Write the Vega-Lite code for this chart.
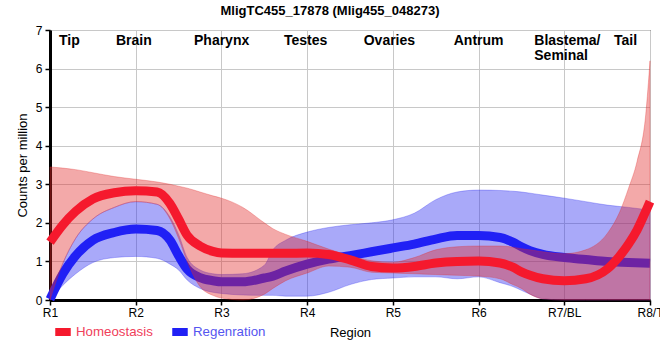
{
  "$schema": "https://vega.github.io/schema/vega-lite/v6.json",
  "autosize": "none",
  "width": 600,
  "height": 270,
  "padding": {"left": 50, "top": 30, "right": 10, "bottom": 60},
  "title": {"text": "MligTC455_17878 (Mlig455_048273)", "fontSize": 13, "font": "Liberation Sans", "fontWeight": "bold", "dx": -20, "offset": 6, "color": "#000"},
  "config": {
    "view": {"stroke": "black", "strokeWidth": 1},
    "font": "Liberation Sans",
    "axis": {"gridColor": "#c8c8c8", "gridWidth": 1, "domainColor": "black", "domainWidth": 3, "tickColor": "black", "tickWidth": 1.5, "tickSize": 5, "labelColor": "#000", "labelFontSize": 12, "labelFont": "Liberation Sans", "titleFont": "Liberation Sans", "titleFontSize": 13, "titleFontWeight": "normal", "titleColor": "#000"}
  },
  "datasets": {
    "series": [
      {"group": "Homeostasis", "x": 0, "y": 1.5, "lo": 0.0, "hi": 3.45},
      {"group": "Homeostasis", "x": 0.15, "y": 1.95, "lo": 0.95, "hi": 3.42},
      {"group": "Homeostasis", "x": 0.3, "y": 2.3, "lo": 1.6, "hi": 3.38},
      {"group": "Homeostasis", "x": 0.5, "y": 2.62, "lo": 2.1, "hi": 3.3},
      {"group": "Homeostasis", "x": 0.75, "y": 2.78, "lo": 2.4, "hi": 3.2},
      {"group": "Homeostasis", "x": 1, "y": 2.83, "lo": 2.55, "hi": 3.13},
      {"group": "Homeostasis", "x": 1.25, "y": 2.8, "lo": 2.48, "hi": 3.06},
      {"group": "Homeostasis", "x": 1.4, "y": 2.5, "lo": 2.1, "hi": 3.0},
      {"group": "Homeostasis", "x": 1.5, "y": 2.1, "lo": 1.6, "hi": 2.95},
      {"group": "Homeostasis", "x": 1.6, "y": 1.68, "lo": 1.0, "hi": 2.9},
      {"group": "Homeostasis", "x": 1.75, "y": 1.4, "lo": 0.35, "hi": 2.8},
      {"group": "Homeostasis", "x": 1.9, "y": 1.26, "lo": 0.12, "hi": 2.7},
      {"group": "Homeostasis", "x": 2, "y": 1.22, "lo": 0.05, "hi": 2.64},
      {"group": "Homeostasis", "x": 2.25, "y": 1.21, "lo": 0.0, "hi": 2.4},
      {"group": "Homeostasis", "x": 2.5, "y": 1.21, "lo": 0.15, "hi": 2.0},
      {"group": "Homeostasis", "x": 2.6, "y": 1.21, "lo": 0.3, "hi": 1.85},
      {"group": "Homeostasis", "x": 2.75, "y": 1.21, "lo": 0.5, "hi": 1.7},
      {"group": "Homeostasis", "x": 3, "y": 1.22, "lo": 0.7, "hi": 1.52},
      {"group": "Homeostasis", "x": 3.25, "y": 1.18, "lo": 0.88, "hi": 1.32},
      {"group": "Homeostasis", "x": 3.5, "y": 1.04, "lo": 0.85, "hi": 1.15},
      {"group": "Homeostasis", "x": 3.75, "y": 0.87, "lo": 0.72, "hi": 1.02},
      {"group": "Homeostasis", "x": 4, "y": 0.83, "lo": 0.7, "hi": 0.98},
      {"group": "Homeostasis", "x": 4.25, "y": 0.87, "lo": 0.68, "hi": 1.1},
      {"group": "Homeostasis", "x": 4.5, "y": 0.96, "lo": 0.66, "hi": 1.3},
      {"group": "Homeostasis", "x": 4.75, "y": 1.0, "lo": 0.64, "hi": 1.38},
      {"group": "Homeostasis", "x": 5, "y": 1.01, "lo": 0.62, "hi": 1.4},
      {"group": "Homeostasis", "x": 5.25, "y": 0.96, "lo": 0.55, "hi": 1.4},
      {"group": "Homeostasis", "x": 5.4, "y": 0.85, "lo": 0.4, "hi": 1.37},
      {"group": "Homeostasis", "x": 5.5, "y": 0.73, "lo": 0.3, "hi": 1.33},
      {"group": "Homeostasis", "x": 5.6, "y": 0.64, "lo": 0.15, "hi": 1.3},
      {"group": "Homeostasis", "x": 5.75, "y": 0.55, "lo": 0.03, "hi": 1.25},
      {"group": "Homeostasis", "x": 6, "y": 0.5, "lo": 0.0, "hi": 1.2},
      {"group": "Homeostasis", "x": 6.25, "y": 0.55, "lo": 0.0, "hi": 1.3},
      {"group": "Homeostasis", "x": 6.5, "y": 0.8, "lo": 0.0, "hi": 1.72},
      {"group": "Homeostasis", "x": 6.65, "y": 1.15, "lo": 0.0, "hi": 2.3},
      {"group": "Homeostasis", "x": 6.75, "y": 1.45, "lo": 0.0, "hi": 2.9},
      {"group": "Homeostasis", "x": 6.85, "y": 1.82, "lo": 0.0, "hi": 3.6},
      {"group": "Homeostasis", "x": 6.95, "y": 2.3, "lo": 0.0, "hi": 4.8},
      {"group": "Homeostasis", "x": 7, "y": 2.55, "lo": 0.0, "hi": 6.2},
      {"group": "Regenration", "x": 0, "y": 0.02, "lo": 0.0, "hi": 0.05},
      {"group": "Regenration", "x": 0.15, "y": 0.68, "lo": 0.38, "hi": 0.95},
      {"group": "Regenration", "x": 0.3, "y": 1.15, "lo": 0.68, "hi": 1.6},
      {"group": "Regenration", "x": 0.5, "y": 1.55, "lo": 0.97, "hi": 2.1},
      {"group": "Regenration", "x": 0.75, "y": 1.75, "lo": 1.1, "hi": 2.4},
      {"group": "Regenration", "x": 1, "y": 1.84, "lo": 1.13, "hi": 2.55},
      {"group": "Regenration", "x": 1.25, "y": 1.8, "lo": 1.08, "hi": 2.48},
      {"group": "Regenration", "x": 1.4, "y": 1.55, "lo": 0.93, "hi": 2.15},
      {"group": "Regenration", "x": 1.5, "y": 1.15, "lo": 0.78, "hi": 1.7},
      {"group": "Regenration", "x": 1.6, "y": 0.8, "lo": 0.52, "hi": 1.1},
      {"group": "Regenration", "x": 1.75, "y": 0.58, "lo": 0.3, "hi": 0.78},
      {"group": "Regenration", "x": 1.9, "y": 0.5, "lo": 0.2, "hi": 0.68},
      {"group": "Regenration", "x": 2, "y": 0.47, "lo": 0.17, "hi": 0.66},
      {"group": "Regenration", "x": 2.25, "y": 0.47, "lo": 0.13, "hi": 0.68},
      {"group": "Regenration", "x": 2.5, "y": 0.57, "lo": 0.12, "hi": 0.9},
      {"group": "Regenration", "x": 2.6, "y": 0.62, "lo": 0.12, "hi": 1.3},
      {"group": "Regenration", "x": 2.75, "y": 0.75, "lo": 0.1, "hi": 1.55},
      {"group": "Regenration", "x": 3, "y": 0.93, "lo": 0.1, "hi": 1.76},
      {"group": "Regenration", "x": 3.25, "y": 1.06, "lo": 0.2, "hi": 1.88},
      {"group": "Regenration", "x": 3.5, "y": 1.15, "lo": 0.4, "hi": 1.95},
      {"group": "Regenration", "x": 3.75, "y": 1.25, "lo": 0.53, "hi": 2.0},
      {"group": "Regenration", "x": 4, "y": 1.35, "lo": 0.57, "hi": 2.08},
      {"group": "Regenration", "x": 4.25, "y": 1.45, "lo": 0.6, "hi": 2.25},
      {"group": "Regenration", "x": 4.5, "y": 1.58, "lo": 0.6, "hi": 2.6},
      {"group": "Regenration", "x": 4.75, "y": 1.67, "lo": 0.55, "hi": 2.8},
      {"group": "Regenration", "x": 5, "y": 1.67, "lo": 0.6, "hi": 2.85},
      {"group": "Regenration", "x": 5.25, "y": 1.62, "lo": 0.45, "hi": 2.84},
      {"group": "Regenration", "x": 5.4, "y": 1.5, "lo": 0.35, "hi": 2.82},
      {"group": "Regenration", "x": 5.5, "y": 1.38, "lo": 0.25, "hi": 2.8},
      {"group": "Regenration", "x": 5.6, "y": 1.28, "lo": 0.15, "hi": 2.77},
      {"group": "Regenration", "x": 5.75, "y": 1.18, "lo": 0.03, "hi": 2.72},
      {"group": "Regenration", "x": 6, "y": 1.1, "lo": 0.0, "hi": 2.64},
      {"group": "Regenration", "x": 6.25, "y": 1.05, "lo": 0.0, "hi": 2.55},
      {"group": "Regenration", "x": 6.5, "y": 1.0, "lo": 0.0, "hi": 2.46},
      {"group": "Regenration", "x": 6.75, "y": 0.97, "lo": 0.0, "hi": 2.4},
      {"group": "Regenration", "x": 7, "y": 0.95, "lo": 0.0, "hi": 2.33}
    ],
    "regions": [
      {"label": "Tip", "x": 0.105},
      {"label": "Brain", "x": 0.77},
      {"label": "Pharynx", "x": 1.68},
      {"label": "Testes", "x": 2.73},
      {"label": "Ovaries", "x": 3.66},
      {"label": "Antrum", "x": 4.71},
      {"label": "Blastema/\nSeminal", "x": 5.65},
      {"label": "Tail", "x": 6.58}
    ]
  },
  "encoding": {
    "x": {"field": "x", "type": "quantitative", "scale": {"domain": [0, 7], "nice": false}, "title": "Region",
      "axis": {"values": [0, 1, 2, 3, 4, 5, 6, 7], "labelExpr": "['R1','R2','R3','R4','R5','R6','R7/BL','R8/T'][datum.value]", "grid": true, "labelOverlap": false, "labelBound": false, "labelFlush": false, "labelPadding": 2, "titlePadding": 8}}
  },
  "layer": [
    {
      "data": {"name": "series"},
      "transform": [{"filter": "datum.group == 'Regenration'"}],
      "mark": {"type": "area", "interpolate": "monotone", "fill": "#2828f0", "fillOpacity": 0.4, "stroke": "#2828f0", "strokeOpacity": 0.3, "strokeWidth": 1},
      "encoding": {
        "y": {"field": "lo", "type": "quantitative", "scale": {"domain": [0, 7], "nice": false}, "title": "Counts per million",
          "axis": {"values": [0, 1, 2, 3, 4, 5, 6, 7], "tickCount": 8, "labelOverlap": false, "grid": true, "titlePadding": 6, "labelPadding": 3}},
        "y2": {"field": "hi"}
      }
    },
    {
      "data": {"name": "series"},
      "transform": [{"filter": "datum.group == 'Regenration'"}],
      "mark": {"type": "line", "interpolate": "monotone", "strokeWidth": 9},
      "encoding": {
        "y": {"field": "y", "type": "quantitative", "scale": {"domain": [0, 7], "nice": false}, "title": "Counts per million",
          "axis": {"values": [0, 1, 2, 3, 4, 5, 6, 7], "tickCount": 8, "labelOverlap": false, "grid": true, "titlePadding": 6, "labelPadding": 3}},
        "color": {"field": "group", "type": "nominal", "scale": {"domain": ["Homeostasis", "Regenration"], "range": ["#f5192d", "#2020f5"]},
          "legend": {"title": null, "orient": "none", "legendX": 1, "legendY": 290, "direction": "horizontal", "symbolType": "stroke", "symbolStrokeWidth": 8, "symbolSize": 240, "labelFontSize": 13.3, "labelFont": "Liberation Sans", "labelColor": {"expr": "datum.value == 'Homeostasis' ? '#f0405a' : '#5555f0'"}, "columnPadding": 3, "labelOffset": 1, "symbolOpacity": 1}}
      }
    },
    {
      "data": {"name": "series"},
      "transform": [{"filter": "datum.group == 'Homeostasis'"}],
      "mark": {"type": "area", "interpolate": "monotone", "fill": "#e02828", "fillOpacity": 0.4, "stroke": "#e02828", "strokeOpacity": 0.3, "strokeWidth": 1},
      "encoding": {
        "y": {"field": "lo", "type": "quantitative", "scale": {"domain": [0, 7], "nice": false}, "title": "Counts per million",
          "axis": {"values": [0, 1, 2, 3, 4, 5, 6, 7], "tickCount": 8, "labelOverlap": false, "grid": true, "titlePadding": 6, "labelPadding": 3}},
        "y2": {"field": "hi"}
      }
    },
    {
      "data": {"name": "series"},
      "transform": [{"filter": "datum.group == 'Homeostasis'"}],
      "mark": {"type": "line", "interpolate": "monotone", "strokeWidth": 9},
      "encoding": {
        "y": {"field": "y", "type": "quantitative", "scale": {"domain": [0, 7], "nice": false}, "title": "Counts per million",
          "axis": {"values": [0, 1, 2, 3, 4, 5, 6, 7], "tickCount": 8, "labelOverlap": false, "grid": true, "titlePadding": 6, "labelPadding": 3}},
        "color": {"field": "group", "type": "nominal", "scale": {"domain": ["Homeostasis", "Regenration"], "range": ["#f5192d", "#2020f5"]},
          "legend": {"title": null, "orient": "none", "legendX": 1, "legendY": 290, "direction": "horizontal", "symbolType": "stroke", "symbolStrokeWidth": 8, "symbolSize": 240, "labelFontSize": 13.3, "labelFont": "Liberation Sans", "labelColor": {"expr": "datum.value == 'Homeostasis' ? '#f0405a' : '#5555f0'"}, "columnPadding": 3, "labelOffset": 1, "symbolOpacity": 1}}
      }
    },
    {
      "mark": {"type": "rule", "color": "black", "strokeWidth": 2.5, "strokeDash": [6, 4]},
      "encoding": {"x": {"datum": 6.5, "type": "quantitative"}}
    },
    {
      "data": {"name": "regions"},
      "mark": {"type": "text", "align": "left", "baseline": "alphabetic", "fontSize": 14, "fontWeight": "bold", "font": "Liberation Sans", "lineBreak": "\n", "lineHeight": 15, "color": "#000"},
      "encoding": {
        "y": {"datum": 6.61, "type": "quantitative", "scale": {"domain": [0, 7], "nice": false}, "title": "Counts per million",
          "axis": {"values": [0, 1, 2, 3, 4, 5, 6, 7], "tickCount": 8, "labelOverlap": false, "grid": true, "titlePadding": 6, "labelPadding": 3}},
        "text": {"field": "label", "type": "nominal"}
      }
    }
  ]
}
